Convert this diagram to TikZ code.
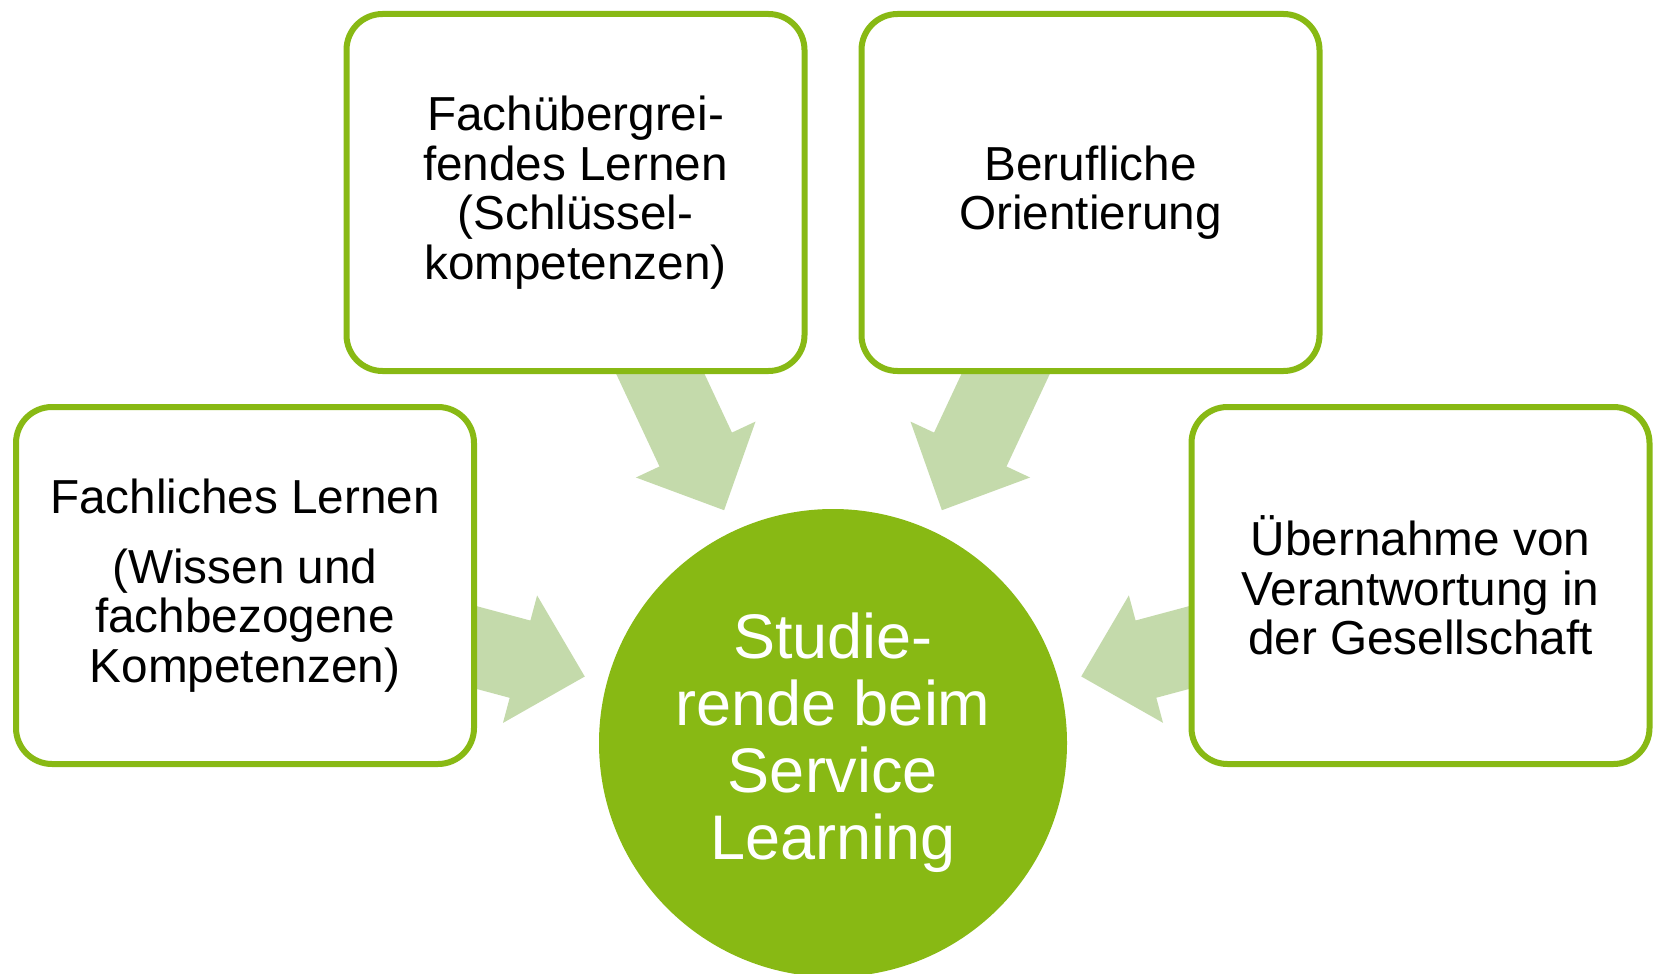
\documentclass[tikz,border=0pt]{standalone}
\usepackage{fontspec}
\setmainfont{Liberation Sans}
\usetikzlibrary{positioning,calc,backgrounds}

\definecolor{leafgreen}{HTML}{88B914}
\definecolor{palegreen}{HTML}{C4DAAB}

% block arrow from a box towards the hub
\newcommand{\feedarrow}[1]{%
  \coordinate (tip) at ($(hub.center)!257pt!(#1.center)$);
  \coordinate (neck) at ($(hub.center)!324pt!(#1.center)$);
  \fill[flow] ($(#1.center)!40pt!90:(tip)$) -- ($(neck)!40pt!90:(tip)$)
    -- ($(neck)!66pt!90:(tip)$) -- (tip) -- ($(neck)!66pt!-90:(tip)$)
    -- ($(neck)!40pt!-90:(tip)$) -- ($(#1.center)!40pt!-90:(tip)$) -- cycle;
}

\begin{document}
\begin{tikzpicture}[
    x=1pt, y=-1pt,
    box/.style={draw=leafgreen, line width=6pt, rounded corners=36pt, fill=white, minimum width=458pt, minimum height=357pt, inner sep=0pt, align=center, font=\fontsize{47.7}{49.5}\selectfont},
    core/.style={circle, fill=leafgreen, minimum size=468pt, inner sep=0pt, align=center, text=white, font=\fontsize{63}{67}\selectfont},
    flow/.style={fill=palegreen}
]
\useasboundingbox (0,0) rectangle (1655,974);

\node[core] (hub) at (833,743) {Studie-\\rende beim\\Service\\Learning};

\node[box] (fach) at (245,585.5) {Fachliches Lernen\\[20pt](Wissen und\\fachbezogene\\Kompetenzen)};
\node[box] (quer) at (575.5,192.5) {Fachübergrei-\\fendes Lernen\\(Schlüssel-\\kompetenzen)};
\node[box, right=51pt of quer] (beruf) {Berufliche\\Orientierung};
\node[box] (gesell) at (1420.5,585.5) {Übernahme von\\Verantwortung in\\der Gesellschaft};

% Arrows
\begin{scope}[on background layer]
\foreach \b in {fach, quer, beruf, gesell} {
    \feedarrow{\b}
}
\end{scope}

\end{tikzpicture}
\end{document}
